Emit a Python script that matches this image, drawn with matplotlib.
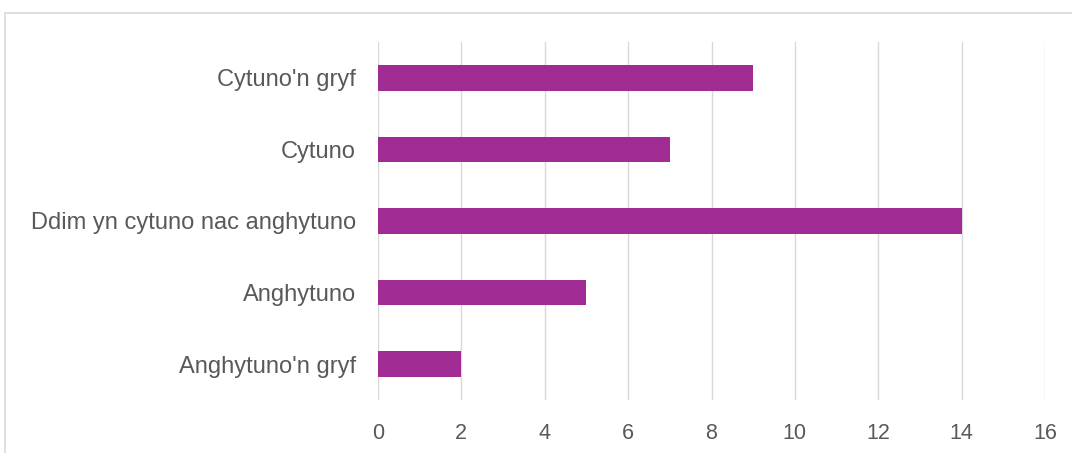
import matplotlib
matplotlib.use("Agg")
import matplotlib.pyplot as plt
from matplotlib.patches import Rectangle

categories = ["Cytuno'n gryf", "Cytuno", "Ddim yn cytuno nac anghytuno",
              "Anghytuno", "Anghytuno'n gryf"]
values = [9, 7, 14, 5, 2]
xticks = [0, 2, 4, 6, 8, 10, 12, 14, 16]

plt.rcParams["font.family"] = ["Liberation Sans", "DejaVu Sans"]
TXT = "#595959"
GRID = "#D9D9D9"

fig = plt.figure(figsize=(10.72, 4.53), dpi=100)
ax = fig.add_axes([378 / 1072, 1 - 400 / 453, 667 / 1072, 358 / 453])

ypos = list(range(len(categories)))[::-1]
ax.barh(ypos, values, height=0.36, color="#A02B93", zorder=3)
ax.set_yticks(ypos)
ax.set_yticklabels(categories)
ax.set_ylim(-0.5, len(categories) - 0.5)
ax.set_xlim(0, 16)
ax.set_xticks(xticks)
ax.tick_params(axis="both", length=0, colors=TXT)
ax.tick_params(axis="x", pad=16.5, labelsize=15.5)
ax.tick_params(axis="y", pad=16, labelsize=17)
ax.grid(axis="x", color=GRID, lw=1, zorder=0)
for s in ax.spines.values():
    s.set_visible(False)

# chart frame, runs off the right and bottom edges
fig.patches.append(Rectangle((5 / 1072, -0.1), 1.2, 1 - 13 / 453 + 0.1,
                             transform=fig.transFigure, fill=False,
                             edgecolor=GRID, lw=1.2))

fig.savefig("out.png", dpi=100)
